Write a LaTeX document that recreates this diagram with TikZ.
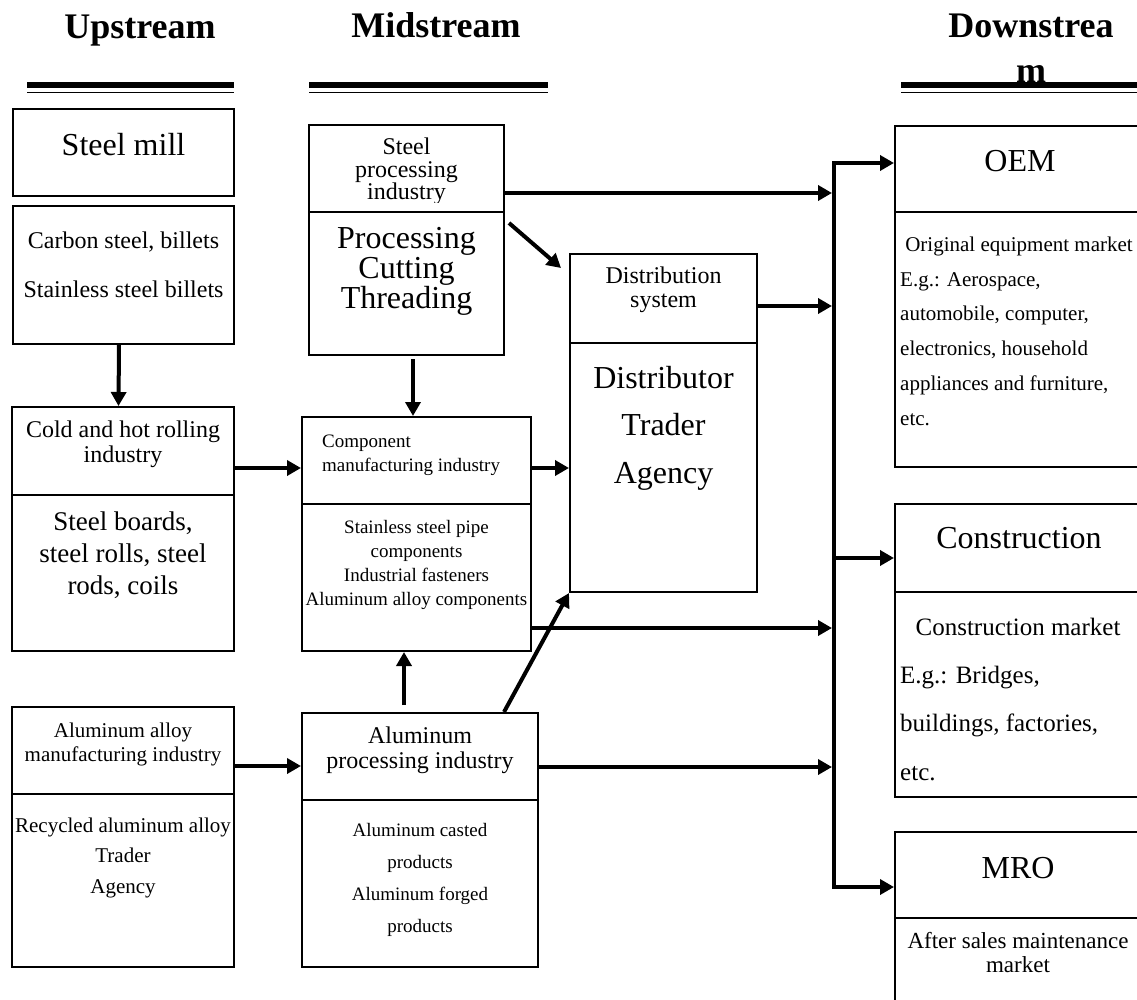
\documentclass[tikz,border=0pt]{standalone}
\usepackage{fontspec}
\setmainfont{Liberation Serif}
\usetikzlibrary{arrows.meta,fit}

\begin{document}
\begin{tikzpicture}[x=1pt,y=-1pt,
  box/.style={draw,line width=2pt,inner sep=0pt},
  txt/.style={inner sep=0pt,align=center,anchor=base},
  head/.style={inner sep=0pt,align=center,anchor=base,font=\fontsize{36}{45}\selectfont\bfseries},
  arr/.style={line width=4pt,-{Triangle[length=14pt,width=15pt]}}]
\useasboundingbox (0,0) rectangle (1137,1000);
% column heads (a text node sits on the baseline of its last line)
\node[head] (up) at (140,39) {Upstream};
\node[head] (mid) at (436,38) {Midstream};
\node[head] (down) at (1031,83) {Downstrea\\m};
\draw[line width=6.5pt] (27,85) -- (234,85);
\draw[line width=1.8pt] (27,92.5) -- (234,92.5);
\draw[line width=6.5pt] (309,85) -- (548,85);
\draw[line width=1.8pt] (309,92.5) -- (548,92.5);
\draw[line width=6.5pt] (901,85) -- (1140,85);
\draw[line width=1.8pt] (901,92.5) -- (1140,92.5);
% upstream
\node[box,fit={(13,109) (234,196)}] (mill) {};
\node[box,fit={(13,206) (234,344)}] (carbon) {};
\node[box,fit={(12,407) (234,495)}] (coldT) {};
\node[box,fit={(12,495) (234,651)}] (coldB) {};
\node[box,fit={(12,707) (234,794)}] (alloyT) {};
\node[box,fit={(12,794) (234,967)}] (alloyB) {};
\node[txt,font=\fontsize{32}{36}\selectfont] (millL) at (mill.center |- 0,156) {Steel mill};
\node[txt,font=\fontsize{24}{48}\selectfont] (carbonL) at (carbon.center |- 0,297) {Carbon steel, billets\\Stainless steel billets};
\node[txt,font=\fontsize{24}{25}\selectfont] (coldTL) at (coldT.center |- 0,462) {Cold and hot rolling\\industry};
\node[txt,font=\fontsize{27}{32}\selectfont] (coldBL) at (coldB.center |- 0,594) {Steel boards,\\steel rolls, steel\\rods, coils};
\node[txt,font=\fontsize{21}{24}\selectfont] (alloyTL) at (alloyT.center |- 0,761) {Aluminum alloy\\manufacturing industry};
\node[txt,font=\fontsize{21}{30.5}\selectfont] (alloyBL) at (alloyB.center |- 0,893) {Recycled aluminum alloy\\Trader\\Agency};
% midstream
\node[box,fit={(309,125) (504,212)}] (spT) {};
\node[box,fit={(309,212) (504,355)}] (spB) {};
\node[box,fit={(302,417) (531,504)}] (compT) {};
\node[box,fit={(302,504) (531,651)}] (compB) {};
\node[box,fit={(302,713) (538,800)}] (alproT) {};
\node[box,fit={(302,800) (538,967)}] (alproB) {};
\node[box,fit={(570,254) (757,343)}] (distT) {};
\node[box,fit={(570,343) (757,592)}] (distB) {};
\begin{scope}
\clip (309,125) rectangle (504,203);
\node[txt,font=\fontsize{24}{22.5}\selectfont] (spTL) at (spT.center |- 0,200) {Steel\\processing\\industry};
\end{scope}
\node[txt,font=\fontsize{32}{30}\selectfont] (spBL) at (spB.center |- 0,308) {Processing\\Cutting\\Threading};
\node[txt,align=left,anchor=base west,font=\fontsize{19}{24}\selectfont] (compTL) at (322,471) {Component\\manufacturing industry};
\node[txt,font=\fontsize{19}{24}\selectfont] (compBL) at (compB.center |- 0,605) {Stainless steel pipe\\components\\Industrial fasteners\\Aluminum alloy components};
\node[txt,font=\fontsize{24}{25}\selectfont] (alproTL) at (alproT.center |- 0,768) {Aluminum\\processing industry};
\node[txt,font=\fontsize{19}{31.7}\selectfont] (alproBL) at (alproB.center |- 0,932) {Aluminum casted\\products\\Aluminum forged\\products};
\node[txt,font=\fontsize{24}{24}\selectfont] (distTL) at (distT.center |- 0,307) {Distribution\\system};
\node[txt,font=\fontsize{32}{47.5}\selectfont] (distBL) at (distB.center |- 0,483) {Distributor\\Trader\\Agency};
% downstream
\node[box,fit={(895,126) (1145,212)}] (oemT) {};
\node[box,fit={(895,212) (1145,467)}] (oemB) {};
\node[box,fit={(895,504) (1145,592)}] (consT) {};
\node[box,fit={(895,592) (1145,797)}] (consB) {};
\node[box,fit={(895,832) (1145,918)}] (mroT) {};
\node[box,fit={(895,918) (1145,1010)}] (mroB) {};
\node[txt,font=\fontsize{32}{36}\selectfont] (oemL) at (1020,172) {OEM};
\node[txt,font=\fontsize{21}{35}\selectfont] (oemBL) at (1019,252) {Original equipment market};
\node[txt,align=left,anchor=base west,font=\fontsize{21}{34.75}\selectfont] (oemBL2) at (900,425) {E.g.: Aerospace,\\automobile, computer,\\electronics, household\\appliances and furniture,\\etc.};
\node[txt,font=\fontsize{32}{36}\selectfont] (consL) at (1019,548) {Construction};
\node[txt,font=\fontsize{25}{30}\selectfont] (consBL) at (1018,635) {Construction market};
\node[txt,align=left,anchor=base west,font=\fontsize{25}{48.5}\selectfont] (consBL2) at (900,780) {E.g.: Bridges,\\buildings, factories,\\etc.};
\node[txt,font=\fontsize{32}{36}\selectfont] (mroL) at (1018,878) {MRO};
\node[txt,font=\fontsize{23}{24}\selectfont] (mroBL) at (1018,972) {After sales maintenance\\market};
% flows
\coordinate (rSp) at (0,193);
\coordinate (rDist) at (0,306);
\coordinate (rCold) at (0,468);
\coordinate (rComp) at (0,628);
\coordinate (rAlloy) at (0,766);
\coordinate (rAlpro) at (0,767);
\coordinate (busIn) at (832,0);
\coordinate (busT) at (834,163);
\coordinate (busC) at (834,558);
\coordinate (busB) at (834,887);
\draw[arr] ([xshift=-4.5pt]carbon.south) -- ([xshift=-4.5pt]coldT.north);
\draw[arr] (coldT.east |- rCold) -- (compT.west |- rCold);
\draw[arr] (alloyT.east |- rAlloy) -- (alproT.west |- rAlloy);
\draw[arr] ([xshift=6.5pt,yshift=-3pt]spB.south) -- ([xshift=6.5pt]spB.south |- compT.north);
\draw[arr] ([xshift=-16pt,yshift=7pt]alproT.north) -- ([xshift=-16pt]alproT.north |- compB.south);
\draw[arr] ([xshift=-35pt]alproT.north east) -- (distB.south west);
\draw[arr] ([shift={(4pt,-10pt)}]spT.south east) -- ([shift={(-8pt,-15pt)}]distT.north west);
\draw[arr] (compT.east |- rCold) -- (distB.west |- rCold);
\draw[arr] (spT.east |- rSp) -- (busIn |- rSp);
\draw[arr] (distT.east |- rDist) -- (busIn |- rDist);
\draw[arr] (compB.east |- rComp) -- (busIn |- rComp);
\draw[arr] (alproT.east |- rAlpro) -- (busIn |- rAlpro);
\draw[arr] (busB) -- (busT) -- (oemT.west |- busT);
\draw[arr] (busT) -- (busB) -- (mroT.west |- busB);
\draw[arr] (busC) -- (consT.west |- busC);
\end{tikzpicture}
\end{document}
